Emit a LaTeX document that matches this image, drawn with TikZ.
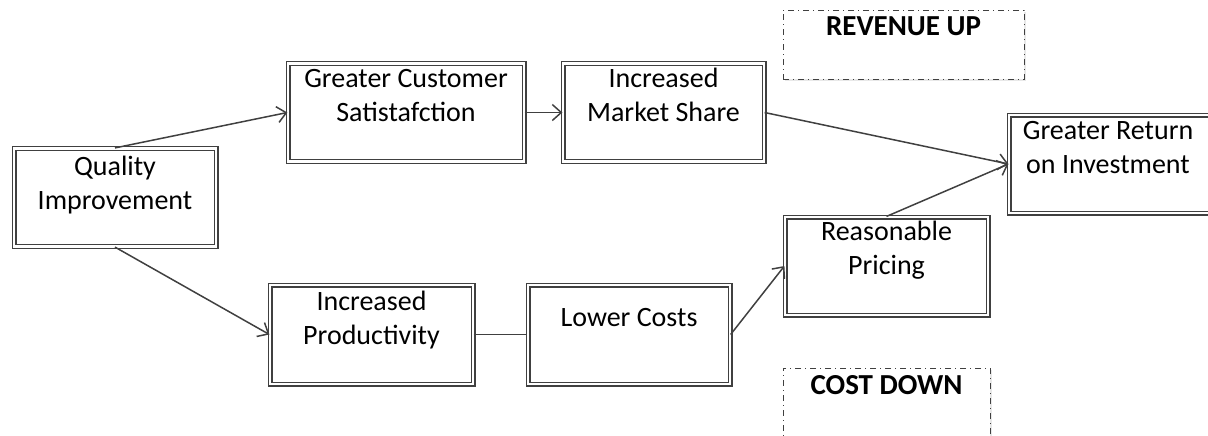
\documentclass[tikz,border=0pt]{standalone}
\usepackage{fontspec}
\setmainfont{Carlito}
\usetikzlibrary{arrows.meta,shadows}
\definecolor{linegray}{HTML}{404040}
\tikzset{
  box/.style={draw=linegray, line width=0.6pt, double=white, double distance=1.3pt,
    fill=white, inner sep=0pt, minimum height=49pt,
    drop shadow={shadow xshift=1.2pt, shadow yshift=-1.2pt, opacity=0.22, fill=gray}},
  dbox/.style={draw=linegray, line width=0.5pt, dash dot, fill=white, inner sep=0pt,
    minimum height=34.5pt,
    drop shadow={shadow xshift=1.2pt, shadow yshift=-1.2pt, opacity=0.18, fill=gray}},
  txt/.style={align=center, inner sep=0pt, anchor=base,
    font=\fontsize{14pt}{17pt}\selectfont},
  btxt/.style={txt, font=\fontsize{14.5pt}{17pt}\selectfont\bfseries},
  conn/.style={draw=linegray, line width=0.75pt},
  arr/.style={conn, -{Straight Barb[length=4.5pt,width=8pt,line width=0.75pt]}}
}
\begin{document}
\begin{tikzpicture}[x=0.5pt,y=-0.5pt]
\useasboundingbox (0,0) rectangle (1208,435);
% boxes
\node[box, minimum width=101pt] (qi)  at (115,197.5) {};
\node[box, minimum width=118pt] (gcs) at (406,112.5) {};
\node[box, minimum width=100.5pt] (ims) at (663.5,112.5) {};
\node[box, minimum width=102pt] (gr)  at (1111,164) {};
\node[box, minimum width=101.5pt] (rp) at (886.5,266) {};
\node[box, minimum width=101.5pt, minimum height=49.5pt] (ip) at (371.5,334.5) {};
\node[box, minimum width=101pt, minimum height=49.5pt] (lc) at (629,334.5) {};
\node[dbox, minimum width=120.5pt] (rev) at (903.5,44.5) {};
\node[dbox, minimum width=103.5pt] (cost) at (886.5,402.5) {};
% texts (base = baseline of last line)
\node[txt] (qit)  at (115,209) {Quality\\Improvement};
\node[txt] (gcst) at (406,121) {Greater Customer\\Satistafction};
\node[txt] (imst) at (663.5,121) {Increased\\Market Share};
\node[txt] (grt)  at (1108,173) {Greater Return\\on Investment};
\node[txt] (rpt)  at (886.5,274) {Reasonable\\Pricing};
\node[txt] (ipt)  at (371.5,344) {Increased\\Productivity};
\node[txt] (lct)  at (629,326) {Lower Costs};
\node[btxt] (revt)  at (903.5,35) {REVENUE UP};
\node[btxt] (costt) at (886.5,394) {COST DOWN};
% connectors
\draw[arr] (qi.north) -- (gcs.west);
\draw[arr] (qi.south) -- (ip.west);
\draw[arr] (gcs.east) -- (ims.west);
\draw[arr] (ims.east) -- (gr.west);
\draw[arr] (rp.north) -- (gr.west);
\draw[conn] (ip.east) -- (lc.west);
\draw[arr] (lc.east) -- (rp.west);
\end{tikzpicture}
\end{document}
